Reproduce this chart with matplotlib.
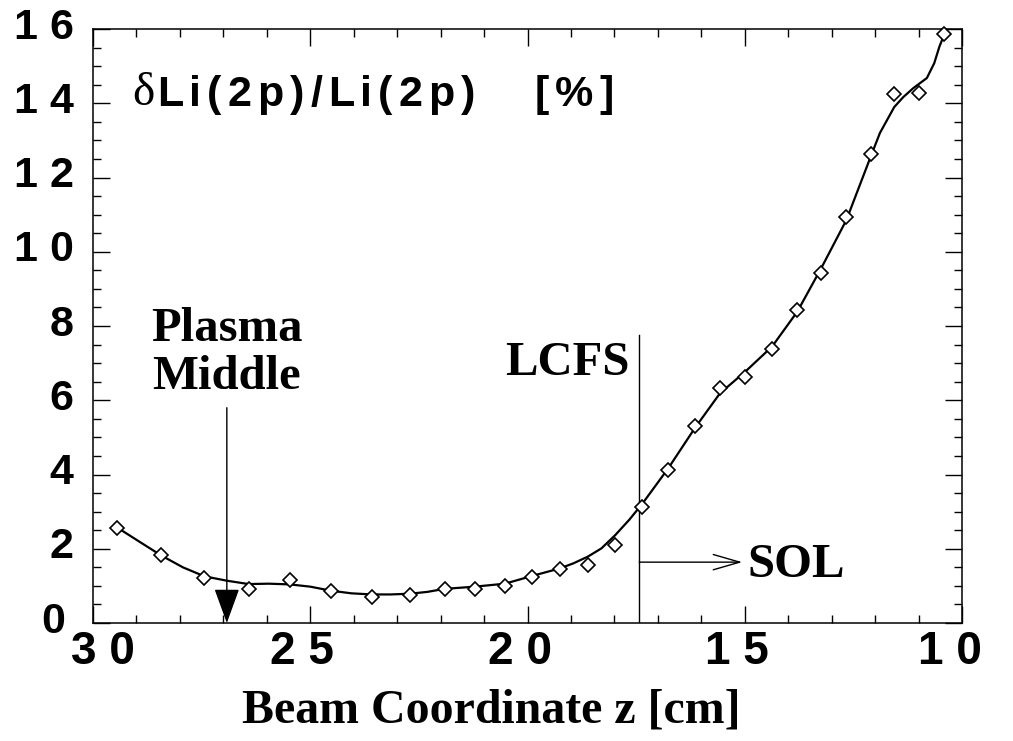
import matplotlib
matplotlib.use('Agg')
import matplotlib.pyplot as plt
from matplotlib.ticker import MultipleLocator, FixedLocator, FixedFormatter
from matplotlib.transforms import ScaledTranslation

# measured points (beam coordinate z [cm], dLi/Li [%])
z_meas = [29.44, 28.43, 27.44, 26.42, 25.47, 24.52, 23.59, 22.70, 21.91, 21.21,
          20.52, 19.89, 19.26, 18.61, 17.98, 17.36, 16.76, 16.15, 15.57, 14.99,
          14.37, 13.79, 13.24, 12.66, 12.10, 11.56, 10.98, 10.41]
d_meas = [2.57, 1.82, 1.21, 0.92, 1.16, 0.86, 0.69, 0.76, 0.92, 0.92,
          1.00, 1.24, 1.46, 1.55, 2.10, 3.12, 4.12, 5.32, 6.34, 6.64,
          7.38, 8.44, 9.43, 10.94, 12.64, 14.25, 14.29, 15.87]

# smooth fit curve
z_fit = [29.44, 28.93, 28.43, 27.93, 27.44, 26.92, 26.42, 25.95, 25.47, 25.00,
         24.52, 24.05, 23.59, 23.15, 22.70, 22.30, 21.91, 21.21, 20.52, 19.89,
         19.26, 18.94, 18.61, 18.30, 17.98, 17.66, 17.36, 16.76, 16.15, 15.57,
         14.99, 14.37, 13.79, 13.24, 12.66, 12.10, 11.89, 11.56, 11.35, 11.12,
         10.81, 10.64, 10.52, 10.41]
d_fit = [2.57, 2.19, 1.82, 1.50, 1.26, 1.14, 1.05, 1.06, 1.04, 0.98,
         0.87, 0.80, 0.77, 0.77, 0.79, 0.84, 0.92, 0.98, 1.06, 1.27,
         1.47, 1.61, 1.79, 2.01, 2.37, 2.78, 3.21, 4.17, 5.25, 6.19,
         6.77, 7.45, 8.39, 9.56, 10.86, 12.57, 13.20, 13.90, 14.17, 14.41,
         14.68, 15.08, 15.53, 15.85]

xticks = [30, 25, 20, 15, 10]
xlabels = ['3 0', '2 5', '2 0', '1 5', '1 0']
yticks = [0, 2, 4, 6, 8, 10, 12, 14, 16]
ylabels = ['0', '2', '4', '6', '8', '1 0', '1 2', '1 4', '1 6']

z_lcfs = 17.43
z_middle = 26.92

fig = plt.figure(figsize=(10.13, 7.41), dpi=100)
ax = fig.add_axes([0.0918, 0.1592, 0.8579, 0.8016])

ax.plot(z_fit, d_fit, '-', color='black', lw=1.6)
ax.plot(z_meas, d_meas, 'D', mfc='white', mec='black', ms=7.5, mew=1.2,
        clip_on=False, zorder=5)

ax.set_xlim(30, 10)
ax.set_ylim(0, 16)

ax.xaxis.set_major_locator(FixedLocator(xticks))
ax.xaxis.set_major_formatter(FixedFormatter(xlabels))
ax.xaxis.set_minor_locator(MultipleLocator(1))
ax.yaxis.set_major_locator(FixedLocator(yticks))
ax.yaxis.set_major_formatter(FixedFormatter(ylabels))
ax.yaxis.set_minor_locator(MultipleLocator(0.5))

ax.tick_params(which='both', direction='in', top=True, right=True, width=1.0)
ax.tick_params(which='major', length=12)
ax.tick_params(which='minor', length=6)
ax.tick_params(axis='x', which='major', pad=5)
ax.tick_params(axis='y', which='major', pad=14)
for lab in ax.get_xticklabels():
    lab.set_fontfamily('Liberation Sans')
    lab.set_fontweight('bold')
    lab.set_fontsize(33)
for lab in ax.get_yticklabels():
    lab.set_fontfamily('Liberation Sans')
    lab.set_fontweight('bold')
    lab.set_fontsize(31)
up = ScaledTranslation(0, 6 / 100, fig.dpi_scale_trans)
for lab in ax.get_yticklabels():
    lab.set_transform(lab.get_transform() + up)
ylab0 = ax.get_yticklabels()[0]
ylab0.set_transform(ylab0.get_transform() + ScaledTranslation(-8 / 100, 0, fig.dpi_scale_trans))
# x labels sit slightly off their ticks in the original
xshift = [10, -8, -8, -8, -12]
for lab, dx in zip(ax.get_xticklabels(), xshift):
    lab.set_transform(lab.get_transform() + ScaledTranslation(dx / 100, 0, fig.dpi_scale_trans))
for sp in ax.spines.values():
    sp.set_linewidth(1.1)

# title inside the axes, letter-spaced like the original
prev = ax.text(0.045, 0.872, 'δ', transform=ax.transAxes, family='Liberation Serif',
               fontsize=34, va='baseline', ha='left')
title = 'Li(2p)/Li(2p)'
for i, ch in enumerate(title):
    prev = ax.annotate(ch, xy=(1, 0), xycoords=prev, xytext=(2 if i == 0 else 4.3, 0),
                       textcoords='offset points', family='Liberation Sans',
                       weight='bold', fontsize=31, va='bottom', ha='left')
for i, ch in enumerate('[%]'):
    prev = ax.annotate(ch, xy=(1, 0), xycoords=prev, xytext=(43 if i == 0 else 4.3, 0),
                       textcoords='offset points', family='Liberation Sans',
                       weight='bold', fontsize=31, va='bottom', ha='left')

# LCFS
ax.plot([z_lcfs, z_lcfs], [0, 7.76], color='black', lw=1.0)
ax.text(17.64, 6.68, 'LCFS', family='Liberation Serif', weight='bold',
        fontsize=35, ha='right', va='baseline')
ax.annotate('', xy=(15.06, 1.64), xytext=(z_lcfs, 1.64),
            arrowprops=dict(arrowstyle='->,head_length=1.9,head_width=0.55',
                            color='black', lw=1.0, shrinkA=0, shrinkB=0))
ax.text(14.93, 1.24, 'SOL', family='Liberation Serif', weight='bold',
        fontsize=35, ha='left', va='baseline')

# plasma middle
ax.annotate('', xy=(z_middle, 0), xytext=(z_middle, 5.8),
            arrowprops=dict(arrowstyle='-|>,head_length=2.2,head_width=0.8',
                            color='black', lw=1.0, shrinkA=0, shrinkB=0))
ax.text(z_middle, 7.28, 'Plasma\nMiddle', family='Liberation Serif', weight='bold',
        fontsize=35, ha='center', va='center', linespacing=1.12)

fig.text(0.485, 0.0256, 'Beam Coordinate z [cm]', family='Liberation Serif',
         weight='bold', fontsize=34.5, ha='center', va='baseline')

fig.savefig('out.png', dpi=100)
